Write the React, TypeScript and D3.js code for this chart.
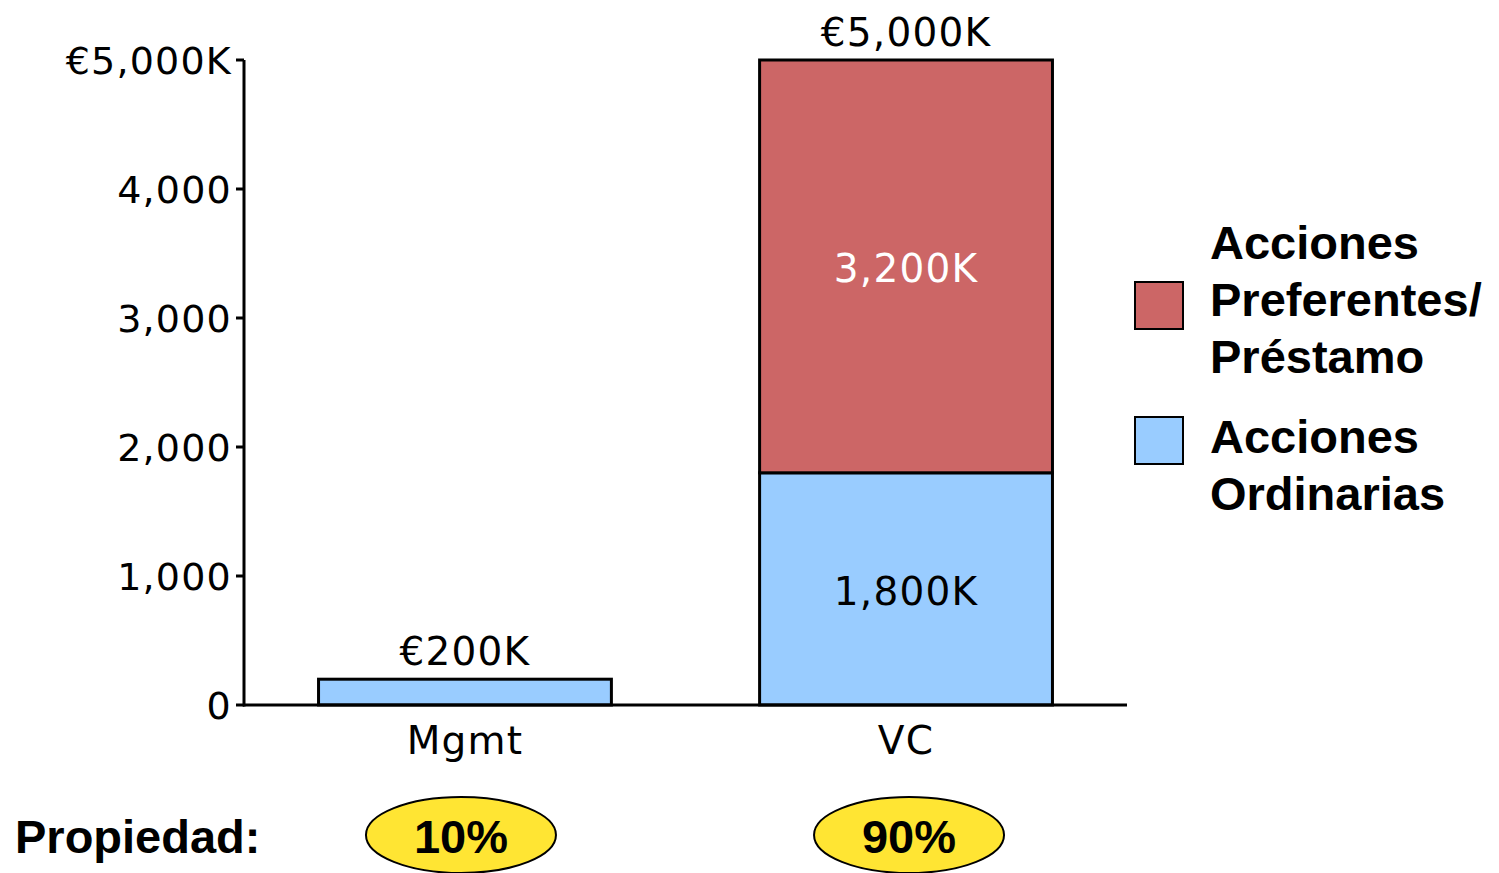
import React from "react";
import * as d3 from "d3";

const categories = ["Mgmt", "VC"];
const seriesNames = ["Acciones Ordinarias", "Acciones Preferentes/Préstamo"];
const ordinarias = [200, 1800];
const preferentes = [0, 3200];
const totalLabels = ["€200K", "€5,000K"];
const segmentLabels = [
  ["", ""],
  ["1,800K", "3,200K"],
];
const ownership = ["10%", "90%"];
const yTicks = [0, 1000, 2000, 3000, 4000, 5000];
const yTickLabels = ["0", "1,000", "2,000", "3,000", "4,000", "€5,000K"];

const W = 1499;
const H = 873;
const RED = "#CC6666";
const BLUE = "#99CCFF";
const YELLOW = "#FFE533";
const sans = "'DejaVu Sans', Verdana, sans-serif";
const bold = "'Liberation Sans', Arial, sans-serif";
const ellipseShift = [-4, 3];

export default function App() {
  const x = d3.scaleBand().domain(categories).range([244, 1127]).paddingInner(0.336).paddingOuter(0.169);
  const y = d3.scaleLinear().domain([0, 5000]).range([705, 60]);
  const bw = x.bandwidth();

  const rows = categories.map((c, i) => ({ c, ord: ordinarias[i], pref: preferentes[i] }));
  const stack = d3.stack<any>().keys(["ord", "pref"])(rows as any);
  const colors = [BLUE, RED];
  const ls = 1.2;

  return (
    <svg width={W} height={H} style={{ position: "absolute", left: 0, top: 0, background: "#fff" }}>
      {stack.map((layer, li) =>
        layer.map((d, i) => {
          const v = d[1] - d[0];
          if (v <= 0) return null;
          const x0 = x(categories[i])!;
          return (
            <rect
              key={`${li}-${i}`}
              x={x0}
              y={y(d[1])}
              width={bw}
              height={y(d[0]) - y(d[1])}
              fill={colors[li]}
              stroke="#000"
              strokeWidth={3}
            />
          );
        })
      )}
      {stack.map((layer, li) =>
        layer.map((d, i) => {
          const lab = segmentLabels[i][li];
          if (!lab) return null;
          const cx = x(categories[i])! + bw / 2;
          const cy = (y(d[0]) + y(d[1])) / 2;
          return (
            <text
              key={`s-${li}-${i}`}
              x={cx}
              y={cy + 16}
              textAnchor="middle"
              fontFamily={sans}
              fontSize={39}
              letterSpacing={ls}
              fill={li === 1 ? "#fff" : "#000"}
            >
              {lab}
            </text>
          );
        })
      )}
      {categories.map((c, i) => (
        <text
          key={`t-${c}`}
          x={x(c)! + bw / 2}
          y={y(ordinarias[i] + preferentes[i]) - 14}
          textAnchor="middle"
          fontFamily={sans}
          fontSize={39}
          letterSpacing={ls}
          fill="#000"
        >
          {totalLabels[i]}
        </text>
      ))}
      <line x1={244} x2={244} y1={y(5000)} y2={y(0) + 1.5} stroke="#000" strokeWidth={3} />
      <line x1={243} x2={1127} y1={y(0)} y2={y(0)} stroke="#000" strokeWidth={3} />
      {yTicks.map((t, i) => (
        <g key={`yt-${t}`}>
          <line x1={236} x2={244} y1={y(t)} y2={y(t)} stroke="#000" strokeWidth={3} />
          <text
            x={232}
            y={y(t) + 14}
            textAnchor="end"
            fontFamily={sans}
            fontSize={38}
            letterSpacing={ls}
            fill="#000"
          >
            {yTickLabels[i]}
          </text>
        </g>
      ))}
      {categories.map((c) => (
        <text
          key={`xl-${c}`}
          x={x(c)! + bw / 2}
          y={754}
          textAnchor="middle"
          fontFamily={sans}
          fontSize={39}
          letterSpacing={ls}
          fill="#000"
        >
          {c}
        </text>
      ))}
      <text x={15} y={853} fontFamily={bold} fontWeight="bold" fontSize={47} fill="#000">
        Propiedad:
      </text>
      {categories.map((c, i) => {
        const cx = x(c)! + bw / 2 + ellipseShift[i];
        return (
          <g key={`own-${c}`}>
            <ellipse cx={cx} cy={835} rx={95} ry={38} fill={YELLOW} stroke="#000" strokeWidth={2} />
            <text
              x={cx}
              y={853}
              textAnchor="middle"
              fontFamily={bold}
              fontWeight="bold"
              fontSize={47}
              fill="#000"
            >
              {ownership[i]}
            </text>
          </g>
        );
      })}
      <rect x={1135} y={282} width={48} height={47} fill={RED} stroke="#000" strokeWidth={2} />
      <text fontFamily={bold} fontWeight="bold" fontSize={47} fill="#000">
        <tspan x={1210} y={259}>Acciones</tspan>
        <tspan x={1210} y={316}>Preferentes/</tspan>
        <tspan x={1210} y={373}>Préstamo</tspan>
      </text>
      <rect x={1135} y={417} width={48} height={47} fill={BLUE} stroke="#000" strokeWidth={2} />
      <text fontFamily={bold} fontWeight="bold" fontSize={47} fill="#000">
        <tspan x={1210} y={453}>Acciones</tspan>
        <tspan x={1210} y={510}>Ordinarias</tspan>
      </text>
      <desc>{seriesNames.join(", ")}</desc>
    </svg>
  );
}
